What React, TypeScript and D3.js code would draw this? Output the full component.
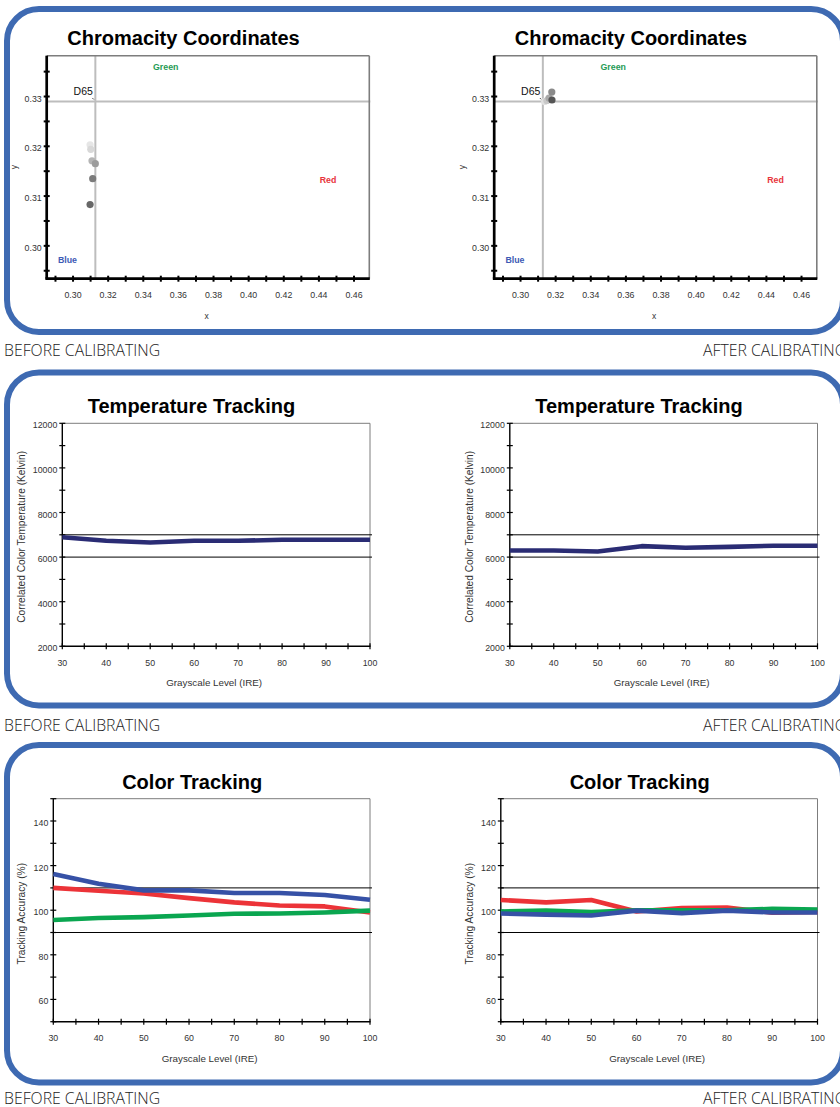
import React from 'react';
import * as d3 from 'd3';

// ---- data ----
const d65 = [0.3127, 0.329];

const chromaBefore = [
  [0.3097, 0.3203],
  [0.3101, 0.3194],
  [0.3108, 0.3171],
  [0.3127, 0.3165],
  [0.3112, 0.3135],
  [0.3097, 0.3083],
];
const chromaAfter = [
  [0.3137, 0.329],
  [0.315, 0.3292],
  [0.3162, 0.3297],
  [0.3178, 0.3309],
  [0.3179, 0.3293],
];
const shadesBefore = ['#e6e6e6', '#d8d8d8', '#b4b4b4', '#9c9c9c', '#7b7b7b', '#676767'];
const shadesAfter = ['#e0e0e0', '#c8c8c8', '#a8a8a8', '#8a8a8a', '#555555'];

const chromaXMajor = [0.3, 0.32, 0.34, 0.36, 0.38, 0.4, 0.42, 0.44, 0.46];
const chromaXMinor = [0.29, 0.31, 0.33, 0.35, 0.37, 0.39, 0.41, 0.43, 0.45];
const chromaYMajor = [0.3, 0.31, 0.32, 0.33];
const chromaYMinor = [0.295, 0.305, 0.315, 0.325, 0.335];

const primaryNames = ['Green', 'Red', 'Blue'];
const primaryAt = [
  [0.3528, 0.336],
  [0.4452, 0.3133],
  [0.2968, 0.2972],
];
const primaryColors = ['#1f9b55', '#e8343c', '#3d5bb5'];

const ireLevels = [30, 40, 50, 60, 70, 80, 90, 100];
const ireMajor = [30, 40, 50, 60, 70, 80, 90, 100];
const ireMinor = [35, 45, 55, 65, 75, 85, 95];

const tempBefore = [6890, 6730, 6655, 6730, 6730, 6775, 6775, 6775];
const tempAfter = [6296, 6296, 6250, 6490, 6417, 6460, 6507, 6507];
const tempYMajor = [2000, 4000, 6000, 8000, 10000, 12000];
const tempYMinor = [3000, 5000, 7000, 9000, 11000];
const tempLimits = [6000, 7000];

const redBefore = [110, 108.7, 107.5, 105.4, 103.5, 102.1, 101.7, 99];
const greenBefore = [95.6, 96.5, 96.9, 97.6, 98.4, 98.5, 99, 99.8];
const blueBefore = [116.2, 111.9, 108.9, 108.9, 107.7, 107.7, 106.8, 104.7];
const redAfter = [104.6, 103.5, 104.6, 99.4, 101, 101.2, 98.9, 99.2];
const greenAfter = [99.4, 99.8, 99.2, 100, 99.9, 99.9, 100.6, 100.3];
const blueAfter = [98.5, 98, 97.6, 99.8, 98.7, 99.8, 99, 99];
const trackYMajor = [60, 80, 100, 120, 140];
const trackYMinor = [50, 70, 90, 110, 130, 150];
const trackLimits = [90, 110];

// ---- layout ----
const OFFSETS = [0, 447.5];
const FONT = 'Liberation Sans, Arial, Helvetica, sans-serif';
const BORDER = '#3e6ab2';

function Frame({ L, R, T, B, axisW, tickColor }) {
  return (
    <g>
      <line x1={L} x2={R} y1={T} y2={T} stroke="#7d7d7d" strokeWidth={axisW > 2 ? 1.6 : 1} />
      <line x1={R} x2={R} y1={T} y2={B} stroke="#7d7d7d" strokeWidth={axisW > 2 ? 1.6 : 1} />
      <line x1={L} x2={L} y1={T} y2={B} stroke={tickColor} strokeWidth={axisW} />
      <line x1={L - axisW / 2} x2={R + 0.5} y1={B} y2={B} stroke={tickColor} strokeWidth={axisW} />
    </g>
  );
}

function Ticks({ x, y, xMajor, xMinor, yMajor, yMinor, xFmt, yFmt, B, L, tw }) {
  const all = (a, b) => [...a, ...b];
  return (
    <g fontFamily={FONT} fontSize={8.8} fill="#333">
      {all(xMajor, xMinor).map((v, i) => (
        <line key={'xt' + i} x1={x(v)} x2={x(v)} y1={B - 3} y2={B + 3} stroke="#000" strokeWidth={tw} />
      ))}
      {all(yMajor, yMinor).map((v, i) => (
        <line key={'yt' + i} x1={L - 3} x2={L + 3} y1={y(v)} y2={y(v)} stroke="#000" strokeWidth={tw} />
      ))}
      {xMajor.map((v, i) => (
        <text key={'xl' + i} x={x(v)} y={B + 19.5} textAnchor="middle">{xFmt(v)}</text>
      ))}
      {yMajor.map((v, i) => (
        <text key={'yl' + i} x={L - 5} y={y(v) + 5} textAnchor="end">{yFmt(v)}</text>
      ))}
    </g>
  );
}

function ChromaChart({ ox, points, shades }) {
  const L = 46.7 + ox, R = 369.3 + ox, T = 55.7, B = 278.7;
  const x = d3.scaleLinear().domain([0.285, 0.4687]).range([L, R]);
  const y = d3.scaleLinear().domain([0.2934, 0.3382]).range([B, T]);
  const f2 = d3.format('.2f');
  return (
    <g>
      <text x={183.5 + ox} y={45} textAnchor="middle" fontFamily={FONT} fontWeight="bold" fontSize={20}>
        Chromacity Coordinates
      </text>
      <line x1={x(d65[0])} x2={x(d65[0])} y1={T} y2={B} stroke="#bdbdbd" strokeWidth={2} />
      <line x1={L} x2={R + 1} y1={y(d65[1])} y2={y(d65[1])} stroke="#bdbdbd" strokeWidth={2} />
      <Frame L={L} R={R} T={T} B={B} axisW={2.7} tickColor="#000" />
      <Ticks x={x} y={y} xMajor={chromaXMajor} xMinor={chromaXMinor} yMajor={chromaYMajor} yMinor={chromaYMinor}
        xFmt={f2} yFmt={f2} B={B} L={L} tw={2} />
      {primaryNames.map((n, i) => (
        <text key={n} x={x(primaryAt[i][0])} y={y(primaryAt[i][1]) + 3.2} textAnchor="middle"
          fontFamily={FONT} fontWeight="bold" fontSize={8.8} fill={primaryColors[i]}>{n}</text>
      ))}
      <text x={x(d65[0]) - 2.5} y={y(d65[1]) - 6.5} textAnchor="end" fontFamily={FONT} fontSize={10.5} fill="#111">D65</text>
      <line x1={x(d65[0]) - 3} x2={x(d65[0]) - 1.5} y1={y(d65[1]) - 3.5} y2={y(d65[1]) - 2} stroke="#222" strokeWidth={0.8} />
      {points.map((p, i) => (
        <circle key={i} cx={x(p[0])} cy={y(p[1])} r={3.6} fill={shades[i]} />
      ))}
      <text x={(L + R) / 2 - 1.5} y={B + 40} textAnchor="middle" fontFamily={FONT} fontSize={8.5} fill="#333">x</text>
      <text transform={`translate(${L - 29.5},${(T + B) / 2}) rotate(-90)`} textAnchor="middle"
        fontFamily={FONT} fontSize={8.5} fill="#333">y</text>
    </g>
  );
}

function LineChart({ ox, title, titleX, T, B, L0, yDomain, yMajor, yMinor, limits, series, colors, yTitle, yTitleDy }) {
  const L = L0 + ox, R = 370 + ox;
  const x = d3.scaleLinear().domain([30, 100]).range([L, R]);
  const y = d3.scaleLinear().domain(yDomain).range([B, T]);
  const line = d3.line().x((d, i) => x(ireLevels[i])).y(d => y(d));
  return (
    <g>
      <text x={titleX + ox} y={T - 10} textAnchor="middle" fontFamily={FONT} fontWeight="bold" fontSize={20}>
        {title}
      </text>
      <Frame L={L} R={R} T={T} B={B} axisW={1.4} tickColor="#000" />
      {limits.map((v, i) => (
        <line key={i} x1={L} x2={R + 2} y1={y(v)} y2={y(v)} stroke="#000" strokeWidth={1} />
      ))}
      <Ticks x={x} y={y} xMajor={ireMajor} xMinor={ireMinor} yMajor={yMajor} yMinor={yMinor}
        xFmt={d3.format('d')} yFmt={d3.format('d')} B={B} L={L} tw={1.2} />
      {series.map((s, i) => (
        <path key={i} d={line(s)} fill="none" stroke={colors[i]} strokeWidth={4.6} strokeLinejoin="round" />
      ))}
      <text x={(L + R) / 2 - 2} y={B + 40} textAnchor="middle" fontFamily={FONT} fontSize={9.8} fill="#333">
        Grayscale Level (IRE)
      </text>
      <text transform={`translate(${L - (L0 - 25)},${(T + B) / 2 + yTitleDy}) rotate(-90)`} textAnchor="middle"
        fontFamily={FONT} fontSize={10.2} fill="#333">{yTitle}</text>
    </g>
  );
}

const panels = [
  { y: 9, h: 323, cap: 356 },
  { y: 372.5, h: 333, cap: 730.5 },
  { y: 745, h: 337.5, cap: 1104 },
];

export default function App() {
  return (
    <svg width={840} height={1107} style={{ position: 'absolute', left: 0, top: 0, background: '#fff' }}>
      <rect width={840} height={1107} fill="#fff" />
      {panels.map((p, i) => (
        <g key={i}>
          <rect x={7} y={p.y} width={836} height={p.h} rx={32} ry={32} fill="none" stroke={BORDER} strokeWidth={6} />
          <text x={4} y={p.cap} fontFamily="Open Sans, Noto Sans, sans-serif" fontWeight={300} fontSize={15.8} fill="#222">
            BEFORE CALIBRATING
          </text>
          <text x={703} y={p.cap} fontFamily="Open Sans, Noto Sans, sans-serif" fontWeight={300} fontSize={15.8} fill="#222">
            AFTER CALIBRATING
          </text>
        </g>
      ))}
      <ChromaChart ox={OFFSETS[0]} points={chromaBefore} shades={shadesBefore} />
      <ChromaChart ox={OFFSETS[1]} points={chromaAfter} shades={shadesAfter} />
      {[tempBefore, tempAfter].map((s, i) => (
        <LineChart key={'t' + i} ox={OFFSETS[i]} title="Temperature Tracking" titleX={191.5} T={423.3} B={646.3} L0={62.3}
          yDomain={[2000, 12000]} yMajor={tempYMajor} yMinor={tempYMinor} limits={tempLimits}
          series={[s]} colors={['#2a2c74']} yTitle="Correlated Color Temperature (Kelvin)" yTitleDy={2} />
      ))}
      {[[redBefore, greenBefore, blueBefore], [redAfter, greenAfter, blueAfter]].map((s, i) => (
        <LineChart key={'c' + i} ox={OFFSETS[i]} title="Color Tracking" titleX={192.2} T={798.7} B={1021.7} L0={53.3}
          yDomain={[50, 150]} yMajor={trackYMajor} yMinor={trackYMinor} limits={trackLimits}
          series={s} colors={['#ec3338', '#0aa650', '#3651a6']} yTitle="Tracking Accuracy (%)" yTitleDy={3.5} />
      ))}
    </svg>
  );
}
